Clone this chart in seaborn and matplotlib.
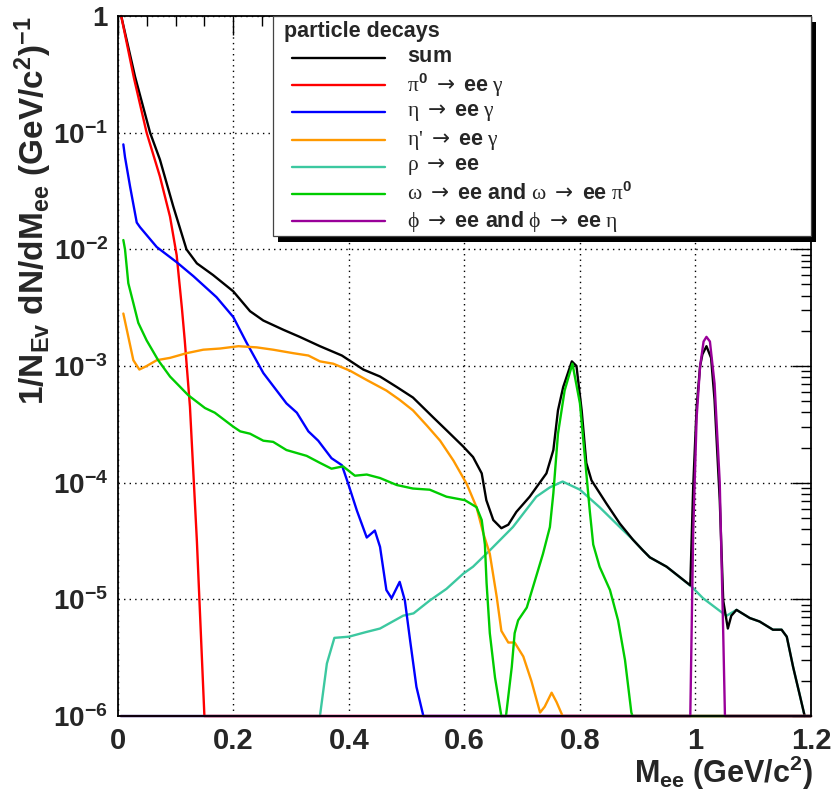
import numpy as np
import pandas as pd
import matplotlib
matplotlib.use("Agg")
import matplotlib.pyplot as plt
import seaborn as sns
from matplotlib.ticker import FixedLocator, MultipleLocator, LogLocator, NullFormatter
from matplotlib.patches import Rectangle
from matplotlib.lines import Line2D

# ---------------- data (y given as log10 of dN/dM) ----------------
sum_x = [0.006, 0.030, 0.056, 0.073, 0.096, 0.119, 0.137, 0.165, 0.200, 0.229,
         0.252, 0.287, 0.315, 0.350, 0.388, 0.425, 0.454, 0.483, 0.511, 0.546,
         0.569, 0.598, 0.615, 0.630, 0.638, 0.650, 0.664, 0.676, 0.690, 0.713,
         0.742, 0.754, 0.762, 0.771, 0.786, 0.794, 0.803, 0.811, 0.820, 0.846,
         0.869, 0.892, 0.909, 0.921, 0.950, 0.991, 0.996, 1.002, 1.008, 1.012,
         1.019, 1.027, 1.033, 1.042, 1.048, 1.056, 1.062, 1.071, 1.094, 1.111,
         1.134, 1.149, 1.158, 1.169, 1.180, 1.189]
sum_log10 = [0.0, -0.52, -1.0, -1.23, -1.63, -2.0, -2.12, -2.22, -2.36, -2.53,
             -2.61, -2.69, -2.75, -2.83, -2.91, -3.03, -3.09, -3.18, -3.27, -3.44,
             -3.55, -3.69, -3.78, -3.92, -4.15, -4.32, -4.39, -4.36, -4.25, -4.12,
             -3.92, -3.72, -3.38, -3.18, -2.96, -3.0, -3.38, -3.83, -3.98, -4.18,
             -4.35, -4.49, -4.58, -4.64, -4.72, -4.88, -4.04, -3.35, -3.0, -2.90,
             -2.83, -2.93, -3.29, -4.15, -5.01, -5.25, -5.14, -5.09, -5.16, -5.19,
             -5.26, -5.26, -5.32, -5.58, -5.81, -6.0]

pi0_x = [0.006, 0.028, 0.050, 0.073, 0.0905, 0.102, 0.111, 0.116, 0.125, 0.137, 0.150, 1.2]
pi0_log10 = [0.0, -0.53, -1.0, -1.375, -1.72, -2.05, -2.50, -2.78, -3.35, -4.50, -6.0, -6.0]

eta_x = [0.0097, 0.0126, 0.0213, 0.0329, 0.0386, 0.0675, 0.102, 0.131, 0.171, 0.200,
         0.223, 0.252, 0.292, 0.310, 0.330, 0.347, 0.370, 0.388, 0.399, 0.414,
         0.431, 0.445, 0.454, 0.465, 0.474, 0.488, 0.497, 0.506, 0.517, 0.529, 1.2]
eta_log10 = [-1.10, -1.21, -1.46, -1.77, -1.81, -1.98, -2.11, -2.23, -2.41, -2.58,
             -2.80, -3.06, -3.32, -3.40, -3.56, -3.64, -3.79, -3.85, -4.01, -4.24,
             -4.47, -4.41, -4.55, -4.92, -4.99, -4.85, -5.01, -5.35, -5.75, -6.0, -6.0]

etap_x = [0.0097, 0.027, 0.0374, 0.050, 0.0675, 0.0905, 0.119, 0.148, 0.177, 0.209,
          0.2405, 0.269, 0.304, 0.330, 0.350, 0.373, 0.402, 0.431, 0.465, 0.488,
          0.511, 0.535, 0.558, 0.581, 0.604, 0.621, 0.6325, 0.644, 0.656, 0.664,
          0.676, 0.687, 0.702, 0.716, 0.731, 0.739, 0.751, 0.7595, 0.770, 1.2]
etap_log10 = [-2.55, -2.95, -3.03, -3.0, -2.95, -2.93, -2.89, -2.86, -2.85, -2.83,
              -2.84, -2.86, -2.89, -2.91, -2.96, -2.98, -3.04, -3.12, -3.21, -3.29,
              -3.38, -3.51, -3.64, -3.81, -4.01, -4.21, -4.43, -4.61, -4.98, -5.27,
              -5.37, -5.37, -5.49, -5.70, -5.97, -5.92, -5.80, -5.88, -6.0, -6.0]

rho_x = [0.005, 0.350, 0.362, 0.375, 0.400, 0.430, 0.454, 0.494, 0.512, 0.540,
         0.569, 0.598, 0.615, 0.644, 0.684, 0.7245, 0.748, 0.770, 0.800, 0.834,
         0.869, 0.892, 0.909, 0.921, 0.950, 0.993, 1.013, 1.045, 1.054, 1.071,
         1.094, 1.111, 1.134, 1.149, 1.158, 1.169, 1.180, 1.189]
rho_log10 = [-6.0, -6.0, -5.55, -5.33, -5.32, -5.28, -5.25, -5.14, -5.12, -5.01,
             -4.91, -4.78, -4.72, -4.58, -4.38, -4.12, -4.04, -3.99, -4.06, -4.21,
             -4.38, -4.49, -4.58, -4.64, -4.72, -4.89, -4.99, -5.11, -5.14, -5.09,
             -5.16, -5.19, -5.26, -5.26, -5.32, -5.58, -5.81, -6.0]

omega_x = [0.0097, 0.0126, 0.0183, 0.027, 0.0356, 0.050, 0.070, 0.0905, 0.122, 0.151,
           0.168, 0.200, 0.212, 0.229, 0.252, 0.269, 0.292, 0.327, 0.350, 0.370,
           0.390, 0.4105, 0.431, 0.454, 0.483, 0.511, 0.540, 0.569, 0.601, 0.621,
           0.630, 0.6355, 0.6384, 0.644, 0.653, 0.664, 0.672, 0.682, 0.687, 0.693,
           0.708, 0.719, 0.736, 0.748, 0.754, 0.762, 0.7735, 0.787, 0.800, 0.8085,
           0.817, 0.823, 0.834, 0.852, 0.866, 0.878, 0.889, 0.891, 1.2]
omega_log10 = [-1.92, -2.0, -2.29, -2.46, -2.63, -2.78, -2.95, -3.09, -3.25, -3.36,
               -3.40, -3.52, -3.56, -3.58, -3.64, -3.65, -3.72, -3.77, -3.83, -3.88,
               -3.86, -3.94, -3.93, -3.96, -4.02, -4.05, -4.06, -4.12, -4.15, -4.21,
               -4.32, -4.53, -4.86, -5.29, -5.67, -6.0, -6.0, -5.58, -5.29, -5.18,
               -5.07, -4.89, -4.61, -4.38, -4.09, -3.58, -3.21, -2.98, -3.32, -3.78,
               -4.24, -4.53, -4.72, -4.92, -5.18, -5.52, -5.97, -6.0, -6.0]

phi_x = [0.005, 0.991, 0.996, 1.002, 1.008, 1.014, 1.019, 1.025, 1.033, 1.042, 1.048, 1.051, 1.2]
phi_log10 = [-6.0, -6.0, -4.43, -3.44, -3.0, -2.79, -2.75, -2.79, -3.15, -4.0, -5.29, -6.0, -6.0]

# Greek letters and arrows thin (ROOT "Symbol" font), the rest in bold sans
AR = r"$\mathsf{\rightarrow}$"
legend_labels = [
    r"$\mathbf{sum}$",
    r"π$^{\mathbf{0}}$ " + AR + r" $\mathbf{ee}$ γ",
    r"η " + AR + r" $\mathbf{ee}$ γ",
    r"η' " + AR + r" $\mathbf{ee}$ γ",
    r"ρ " + AR + r" $\mathbf{ee}$",
    r"ω " + AR + r" $\mathbf{ee\ and}$ ω " + AR + r" $\mathbf{ee}$ π$^{\mathbf{0}}$",
    r"ϕ " + AR + r" $\mathbf{ee\ and}$ ϕ " + AR + r" $\mathbf{ee}$ η",
]
legend_title = "particle decays"
x_ticks = [0.0, 0.2, 0.4, 0.6, 0.8, 1.0, 1.2]
x_tick_labels = ["0", "0.2", "0.4", "0.6", "0.8", "1", "1.2"]
y_ticks = [1e-6, 1e-5, 1e-4, 1e-3, 1e-2, 1e-1, 1.0]
y_tick_labels = [r"$10^{-6}$", r"$10^{-5}$", r"$10^{-4}$", r"$10^{-3}$", r"$10^{-2}$", r"$10^{-1}$", "1"]
x_label = r"M$_{\mathrm{ee}}$ (GeV/c$^{\mathrm{2}}$)"
y_label = r"1/N$_{\mathrm{Ev}}$ dN/dM$_{\mathrm{ee}}$ (GeV/c$^{\mathrm{2}}$)$^{\mathrm{-1}}$"

# ---------------- style ----------------
sns.set_theme(style="white")
plt.rcParams["font.family"] = ["Liberation Sans", "DejaVu Sans"]
plt.rcParams["font.weight"] = "bold"
plt.rcParams["axes.labelweight"] = "bold"
plt.rcParams["mathtext.fontset"] = "custom"
plt.rcParams["mathtext.rm"] = "Liberation Sans:bold"
plt.rcParams["mathtext.bf"] = "Liberation Sans:bold"
plt.rcParams["mathtext.sf"] = "DejaVu Sans:weight=normal"
plt.rcParams["mathtext.it"] = "Liberation Sans:bold"

Y_MIN, Y_MAX = 1e-6, 1.0
fig = plt.figure(figsize=(8.35, 7.94), dpi=100)
ax = fig.add_axes([0.1410, 0.0982, 0.8303, 0.8816])

colors = {
    "sum": "#000000", "pi0": "#ff0000", "eta": "#0000ff", "etap": "#ff9900",
    "rho": "#3cc8a0", "omega": "#00cc00", "phi": "#990099",
}
series = {
    "sum": (sum_x, sum_log10), "pi0": (pi0_x, pi0_log10), "eta": (eta_x, eta_log10),
    "etap": (etap_x, etap_log10), "rho": (rho_x, rho_log10),
    "omega": (omega_x, omega_log10), "phi": (phi_x, phi_log10),
}
draw_order = ["rho", "sum", "pi0", "eta", "etap", "omega", "phi"]
for key in draw_order:
    xs, ls = series[key]
    df = pd.DataFrame({"M": xs, "dNdM": np.maximum(10.0 ** np.asarray(ls, dtype=float), Y_MIN)})
    sns.lineplot(data=df, x="M", y="dNdM", color=colors[key], lw=1.7, ax=ax,
                 sort=False, estimator=None, legend=False)
for ln in ax.lines:
    ln.set_clip_on(False)
    ln.set_solid_joinstyle("round")

ax.set_yscale("log")
ax.set_xlim(0, 1.2)
ax.set_ylim(Y_MIN, Y_MAX)
ax.xaxis.set_major_locator(FixedLocator(x_ticks))
ax.set_xticklabels(x_tick_labels)
ax.xaxis.set_minor_locator(MultipleLocator(0.05))
ax.yaxis.set_major_locator(FixedLocator(y_ticks))
ax.set_yticklabels(y_tick_labels)
ax.yaxis.set_minor_locator(LogLocator(base=10, subs=np.arange(2, 10)))
ax.yaxis.set_minor_formatter(NullFormatter())
ax.tick_params(which="both", direction="in", top=True, right=True, width=1.0, color="black")
ax.tick_params(axis="x", which="major", length=14, labelsize=21, pad=8)
ax.tick_params(axis="y", which="major", length=14, labelsize=20, pad=7)
ax.tick_params(which="minor", length=7)
for s in ax.spines.values():
    s.set_color("black")
    s.set_linewidth(1.3)
ax.grid(True, which="major", ls=(0, (1, 3)), color="black", lw=1.0)
ax.set_axisbelow(True)

ax.set_xlabel(x_label, fontsize=22, fontweight="bold", loc="right")
ax.xaxis.set_label_coords(1.003, -0.054)
ax.set_ylabel(y_label, fontsize=24, fontweight="bold", loc="top")
ax.yaxis.set_label_coords(-0.092, 1.0)

# ---------------- legend box (ROOT style, with shadow) ----------------
lx0, ly0 = 0.2237, 0.6857
tr = ax.transAxes
ax.add_patch(Rectangle((lx0 + 0.0072, ly0 - 0.008), 1 - lx0, 1 - ly0, transform=tr,
                       facecolor="black", edgecolor="none", clip_on=False, zorder=6))
ax.add_patch(Rectangle((lx0, ly0), 1 - lx0, 1 - ly0, transform=tr,
                       facecolor="white", edgecolor="#444444", lw=0.9, clip_on=False, zorder=7))
ax.text(0.2399, 0.9707, legend_title, transform=tr, fontsize=15.5, fontweight="bold",
        ha="left", va="baseline", zorder=8)
row_y = [0.9404, 0.9014, 0.8624, 0.8229, 0.7847, 0.7457, 0.7071]
legend_keys = ["sum", "pi0", "eta", "etap", "rho", "omega", "phi"]
for key, lab, yy in zip(legend_keys, legend_labels, row_y):
    ax.add_line(Line2D([0.251, 0.3855], [yy, yy], transform=tr, color=colors[key],
                       lw=1.7, clip_on=False, zorder=8))
    ax.text(0.4168, yy, lab, transform=tr, fontsize=15.5, fontweight="normal",
            family=["Liberation Serif", "DejaVu Serif"],
            ha="left", va="center", zorder=8)

fig.savefig("out.png", dpi=100)
